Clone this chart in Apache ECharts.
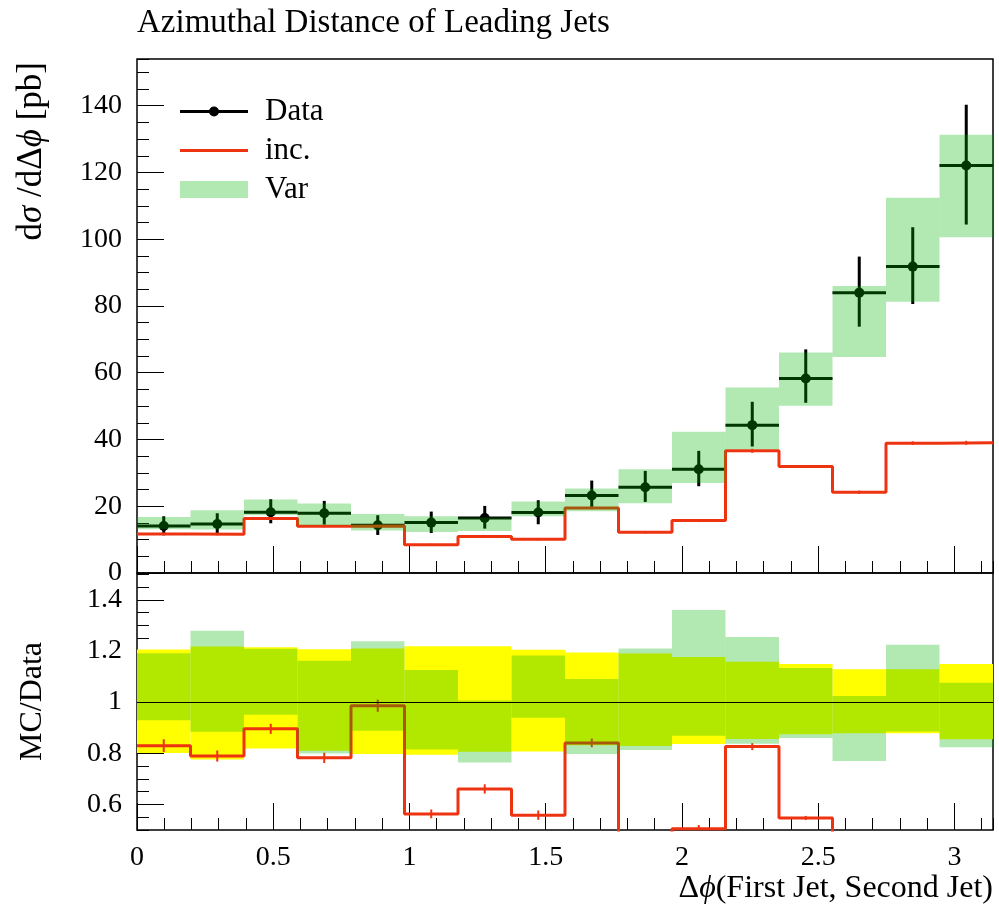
<!DOCTYPE html>
<html>
<head>
<meta charset="utf-8">
<script src="https://cdn.jsdelivr.net/npm/echarts@6/dist/echarts.min.js"></script>
<style>
  html, body { margin: 0; padding: 0; background: #fff; }
  #chart { width: 999px; height: 906px; }
</style>
</head>
<body>
<div id="chart"></div>
<script>
// Δφ binning: 16 equal bins over [0, π]
const binEdges = [0, 0.19635, 0.39270, 0.58905, 0.78540, 0.98175, 1.17810, 1.37445,
                  1.57080, 1.76715, 1.96350, 2.15984, 2.35619, 2.55254, 2.74889, 2.94524, 3.14159];

// Measured cross section dσ/dΔφ [pb] with asymmetric uncertainties
const dataVal     = [14.1, 14.7, 18.2, 17.9, 14.3, 15.1, 16.5, 18.1, 23.2, 25.7, 31.1, 44.3, 58.3, 84.0, 91.8, 122.1];
const dataErrUp   = [2.9, 3.2, 3.9, 3.7, 3.0, 3.3, 3.6, 3.7, 4.5, 4.9, 5.5, 7.0, 8.7, 10.8, 11.8, 18.2];
const dataErrDown = [2.8, 3.3, 3.3, 3.4, 2.9, 3.1, 3.2, 3.5, 3.9, 4.4, 5.1, 6.4, 7.3, 10.2, 11.2, 17.7];

// "inc." prediction and its statistical uncertainty
const incVal = [11.7, 11.6, 16.3, 14.0, 14.1, 8.5, 10.9, 10.1, 19.5, 12.2, 15.7, 36.6, 31.9, 24.2, 38.9, 39.0];
const incErr = [0.35, 0.32, 0.36, 0.36, 0.34, 0.26, 0.30, 0.33, 0.39, 0.40, 0.45, 0.60, 0.46, 0.50, 0.55, 0.60];

// "Var" variation envelope (lower / upper edge)
const varLo = [13.1, 13.0, 17.3, 14.3, 12.7, 12.3, 12.6, 17.0, 18.5, 20.9, 27.0, 37.1, 50.1, 64.7, 81.3, 100.6];
const varHi = [16.8, 18.8, 22.0, 20.8, 17.7, 17.0, 16.6, 21.4, 25.3, 31.1, 42.3, 55.6, 66.1, 86.0, 112.4, 131.3];

// Tick positions
const xMajorTicks = [0, 0.5, 1, 1.5, 2, 2.5, 3];
const yMainMajor  = [0, 20, 40, 60, 80, 100, 120, 140];
const yRatioMajor = [0.6, 0.8, 1, 1.2, 1.4];

const FONT = 'Liberation Serif';
const RED = '#ee3311';
const BAND_GREEN = 'rgba(0,178,0,0.3)';
const YELLOW = '#ffff00';

const X_MAX = binEdges[binEdges.length - 1];
const Y_MAIN_MAX = 154;
const R_MIN = 0.5, R_MAX = 1.505;

const nBins = dataVal.length;
const idx = [...Array(nBins).keys()];
const centers = idx.map(i => (binEdges[i] + binEdges[i + 1]) / 2);

// --- series data built from the arrays above ---
const dataPoints = idx.map(i => [centers[i], dataVal[i], dataVal[i] - dataErrDown[i], dataVal[i] + dataErrUp[i], binEdges[i], binEdges[i + 1]]);
const incSteps = binEdges.map((e, i) => [e, incVal[Math.min(i, nBins - 1)]]);
const incErrBars = idx.map(i => [centers[i], incVal[i] - incErr[i], incVal[i] + incErr[i]]);
const varBand = idx.map(i => [binEdges[i], binEdges[i + 1], varLo[i], varHi[i]]);

const ratioDataBand = idx.map(i => [binEdges[i], binEdges[i + 1], 1 - dataErrDown[i] / dataVal[i], 1 + dataErrUp[i] / dataVal[i]]);
const ratioVarBand = idx.map(i => [binEdges[i], binEdges[i + 1], varLo[i] / dataVal[i], varHi[i] / dataVal[i]]);
const ratioIncSteps = binEdges.map((e, i) => { const k = Math.min(i, nBins - 1); return [e, incVal[k] / dataVal[k]]; });
const ratioIncErr = idx.map(i => [centers[i], (incVal[i] - incErr[i]) / dataVal[i], (incVal[i] + incErr[i]) / dataVal[i]]);

// --- render helpers ---
function bandRenderer(color) {
  return function (params, api) {
    const a = api.coord([api.value(0), api.value(3)]);
    const b = api.coord([api.value(1), api.value(2)]);
    return { type: 'rect', shape: { x: a[0], y: a[1], width: b[0] - a[0], height: b[1] - a[1] },
             style: { fill: color } };
  };
}
function errRenderer(color, width, yMin, yMax) {
  return function (params, api) {
    const lo = Math.max(api.value(1), yMin), hi = Math.min(api.value(2), yMax);
    if (hi <= yMin || lo >= yMax) return null;
    const a = api.coord([api.value(0), lo]);
    const b = api.coord([api.value(0), hi]);
    return { type: 'line', shape: { x1: a[0], y1: a[1], x2: b[0], y2: b[1] },
             style: { stroke: color, lineWidth: width } };
  };
}
function dataRenderer(params, api) {
  const c = api.coord([api.value(0), api.value(1)]);
  const l = api.coord([api.value(4), api.value(1)]);
  const r = api.coord([api.value(5), api.value(1)]);
  const lo = api.coord([api.value(0), api.value(2)]);
  const hi = api.coord([api.value(0), api.value(3)]);
  return { type: 'group', children: [
    { type: 'line', shape: { x1: l[0], y1: l[1], x2: r[0], y2: r[1] }, style: { stroke: '#000', lineWidth: 3 } },
    { type: 'line', shape: { x1: lo[0], y1: lo[1], x2: hi[0], y2: hi[1] }, style: { stroke: '#000', lineWidth: 3 } },
    { type: 'circle', shape: { cx: c[0], cy: c[1], r: 5 }, style: { fill: '#000' } }
  ] };
}

// --- axes ---
const tickStyle = { color: '#000', width: 1 };
const labelStyle = { color: '#000', fontFamily: FONT, fontSize: 28 };

function xMinor(grid) {
  return { type: 'value', gridIndex: grid, min: 0, max: X_MAX, interval: 0.1, position: 'bottom',
           axisLine: { show: false }, splitLine: { show: false }, axisLabel: { show: false },
           axisTick: { show: true, inside: true, length: 12, lineStyle: tickStyle } };
}
function xMajor(grid, withLabels) {
  const ax = { type: 'value', gridIndex: grid, min: 0, max: X_MAX, position: 'bottom',
           axisLine: { show: false }, splitLine: { show: false },
           axisTick: { show: true, inside: true, length: 27, lineStyle: tickStyle, customValues: xMajorTicks },
           axisLabel: { show: false } };
  if (withLabels) {
    ax.axisLabel = Object.assign({ show: true, customValues: xMajorTicks, margin: 14 }, labelStyle);
    ax.name = 'Δ{i|ϕ}(First Jet, Second Jet)';
    ax.nameLocation = 'end';
    ax.nameGap = 0;
    ax.nameTextStyle = { color: '#000', fontFamily: FONT, fontSize: 32, align: 'right', verticalAlign: 'top',
                         padding: [43, 0, 0, 0],
                         rich: { i: { fontFamily: FONT, fontSize: 32, fontStyle: 'italic', color: '#000' } } };
  }
  return ax;
}

const option = {
  animation: false,
  backgroundColor: '#fff',
  title: {
    text: 'Azimuthal Distance of Leading Jets',
    left: 137, top: 7, padding: 0,
    textStyle: { color: '#000', fontFamily: FONT, fontSize: 33, fontWeight: 'normal' }
  },
  legend: {
    orient: 'vertical', left: 180, top: 96, padding: 0, itemGap: 8,
    itemWidth: 68, itemHeight: 17, symbolKeepAspect: true,
    selectedMode: false,
    textStyle: { color: '#000', fontFamily: FONT, fontSize: 31, padding: [0, 0, 0, 12] },
    data: [
      { name: 'Data', icon: 'path://M0,3.5L68,3.5L68,6.5L0,6.5Z M29,5A5,5 0 1 1 39,5A5,5 0 1 1 29,5Z' },
      { name: 'inc.', icon: 'path://M0,0L68,0L68,3L0,3Z' },
      { name: 'Var', icon: 'rect' }
    ]
  },
  grid: [
    { left: 137, top: 59, width: 856, height: 514, show: true, borderColor: '#000', borderWidth: 1.5, backgroundColor: 'transparent' },
    { left: 137, top: 573, width: 856, height: 257, show: true, borderColor: '#000', borderWidth: 1.5, backgroundColor: 'transparent' }
  ],
  xAxis: [ xMinor(0), xMajor(0, false), xMinor(1), xMajor(1, true) ],
  yAxis: [
    { type: 'value', gridIndex: 0, min: 0, max: Y_MAIN_MAX, interval: 5, position: 'left',
      axisLine: { show: false }, splitLine: { show: false }, axisLabel: { show: false },
      axisTick: { show: true, inside: true, length: 12, lineStyle: tickStyle } },
    { type: 'value', gridIndex: 0, min: 0, max: Y_MAIN_MAX, position: 'left',
      axisLine: { show: false }, splitLine: { show: false },
      axisTick: { show: true, inside: true, length: 27, lineStyle: tickStyle, customValues: yMainMajor },
      axisLabel: Object.assign({ show: true, customValues: yMainMajor, margin: 15 }, labelStyle),
      name: 'd{i|σ} /dΔ{i|ϕ} [pb]', nameLocation: 'end', nameGap: -3, nameRotate: 90,
      nameTextStyle: { color: '#000', fontFamily: FONT, fontSize: 35, align: 'right', verticalAlign: 'bottom',
                       padding: [0, 0, 88, 0],
                       rich: { i: { fontFamily: FONT, fontSize: 35, fontStyle: 'italic', color: '#000' } } } },
    { type: 'value', gridIndex: 1, min: R_MIN, max: R_MAX, interval: 0.05, position: 'left',
      axisLine: { show: false }, splitLine: { show: false }, axisLabel: { show: false },
      axisTick: { show: true, inside: true, length: 12, lineStyle: tickStyle } },
    { type: 'value', gridIndex: 1, min: R_MIN, max: R_MAX, position: 'left',
      axisLine: { show: false }, splitLine: { show: false },
      axisTick: { show: true, inside: true, length: 27, lineStyle: tickStyle, customValues: yRatioMajor },
      axisLabel: Object.assign({ show: true, customValues: yRatioMajor, margin: 15 }, labelStyle),
      name: 'MC/Data', nameLocation: 'middle', nameGap: 88, nameRotate: 90,
      nameTextStyle: { color: '#000', fontFamily: FONT, fontSize: 32 } }
  ],
  series: [
    // upper panel
    { name: 'Data', type: 'custom', xAxisIndex: 0, yAxisIndex: 0, z: 2, data: dataPoints,
      encode: { x: 0, y: 1 }, itemStyle: { color: '#000' }, renderItem: dataRenderer },
    { name: 'inc.', type: 'line', xAxisIndex: 0, yAxisIndex: 0, z: 3, data: incSteps, step: 'end',
      symbol: 'none', itemStyle: { color: RED }, lineStyle: { color: RED, width: 3 } },
    { name: 'inc. stat', type: 'custom', xAxisIndex: 0, yAxisIndex: 0, z: 3, data: incErrBars,
      encode: { x: 0, y: [1, 2] }, renderItem: errRenderer(RED, 2, 0, Y_MAIN_MAX) },
    { name: 'Var', type: 'custom', xAxisIndex: 0, yAxisIndex: 0, z: 4, data: varBand,
      encode: { x: [0, 1], y: [2, 3] }, itemStyle: { color: BAND_GREEN }, renderItem: bandRenderer(BAND_GREEN) },

    // ratio panel
    { name: 'Data uncertainty', type: 'custom', xAxisIndex: 2, yAxisIndex: 2, z: 2, data: ratioDataBand,
      encode: { x: [0, 1], y: [2, 3] }, renderItem: bandRenderer(YELLOW) },
    { name: 'inc./Data', type: 'line', xAxisIndex: 2, yAxisIndex: 2, z: 3, data: ratioIncSteps, step: 'end',
      symbol: 'none', clip: true, lineStyle: { color: RED, width: 3 },
      markLine: { silent: true, symbol: ['none', 'none'], label: { show: false },
                  lineStyle: { color: '#000', width: 1, type: 'solid' }, data: [{ yAxis: 1 }] } },
    { name: 'inc./Data stat', type: 'custom', xAxisIndex: 2, yAxisIndex: 2, z: 3, data: ratioIncErr,
      encode: { x: 0, y: [1, 2] }, renderItem: errRenderer(RED, 2, R_MIN, R_MAX) },
    { name: 'Var/Data', type: 'custom', xAxisIndex: 2, yAxisIndex: 2, z: 4, data: ratioVarBand,
      encode: { x: [0, 1], y: [2, 3] }, renderItem: bandRenderer(BAND_GREEN) }
  ]
};

const chart = echarts.init(document.getElementById('chart'), null, { renderer: 'canvas' });
chart.setOption(option);
</script>
</body>
</html>
